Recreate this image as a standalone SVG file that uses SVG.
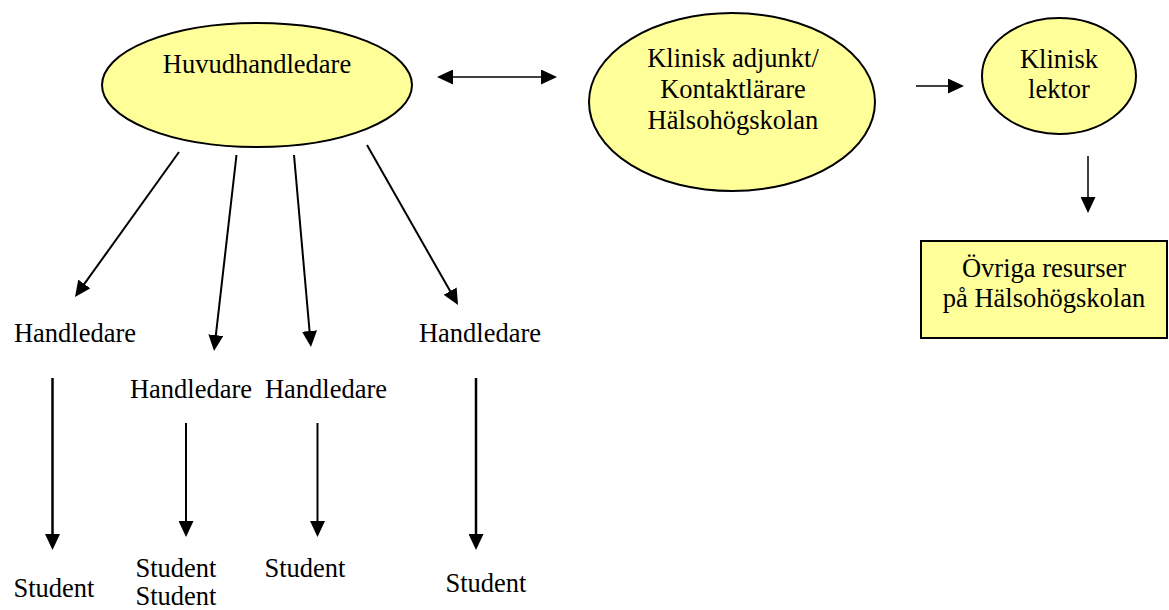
<svg xmlns="http://www.w3.org/2000/svg" width="1169" height="610" viewBox="0 0 1169 610">
<style>
  text { font-family: "Liberation Serif", "Times New Roman", serif; font-size: 26.5px; fill: #000; text-anchor: middle; }
  .node { fill: #FFFF99; stroke: #000; stroke-width: 2; }
  .conn { stroke: #000; fill: none; stroke-linecap: butt; }
</style>
<defs>
  <marker id="ah" markerUnits="userSpaceOnUse" markerWidth="16" markerHeight="15" viewBox="0 0 16 15" refX="4" refY="7.5" orient="auto-start-reverse">
    <path d="M0,0 L16,7.5 L0,15 z" fill="#000"/>
  </marker>
</defs>
<rect width="1169" height="610" fill="#fff"/>

<g id="huvudhandledare">
  <ellipse class="node" cx="257" cy="85" rx="155" ry="62"/>
  <text x="257" y="73">Huvudhandledare</text>
</g>
<g id="klinisk-adjunkt">
  <ellipse class="node" cx="732" cy="102" rx="143" ry="89"/>
  <text x="733" y="67">Klinisk adjunkt/</text>
  <text x="733" y="98">Kontaktlärare</text>
  <text x="733" y="129">Hälsohögskolan</text>
</g>
<g id="klinisk-lektor">
  <ellipse class="node" cx="1059" cy="76" rx="77" ry="58"/>
  <text x="1059" y="68">Klinisk</text>
  <text x="1059" y="98">lektor</text>
</g>
<g id="ovriga-resurser">
  <rect class="node" x="921" y="241" width="246" height="97"/>
  <text x="1044" y="277">Övriga resurser</text>
  <text x="1044" y="307">på Hälsohögskolan</text>
</g>
<g id="handledare-1"><text x="75" y="342">Handledare</text></g>
<g id="handledare-2"><text x="191" y="398">Handledare</text></g>
<g id="handledare-3"><text x="326" y="398">Handledare</text></g>
<g id="handledare-4"><text x="480" y="342">Handledare</text></g>
<g id="student-1"><text x="54" y="597">Student</text></g>
<g id="student-2"><text x="176" y="577">Student</text><text x="176" y="605">Student</text></g>
<g id="student-3"><text x="305" y="577">Student</text></g>
<g id="student-4"><text x="486" y="592">Student</text></g>

<g id="connectors">
  <line class="conn" x1="449" y1="77" x2="545" y2="77" stroke-width="1.5" marker-start="url(#ah)" marker-end="url(#ah)"/>
  <line class="conn" x1="916" y1="86" x2="952" y2="86" stroke-width="1.5" marker-end="url(#ah)"/>
  <line class="conn" x1="1088" y1="156" x2="1088" y2="201" stroke-width="1.5" marker-end="url(#ah)"/>
  <line class="conn" x1="179" y1="152" x2="82" y2="287.2" stroke-width="2" marker-end="url(#ah)"/>
  <line class="conn" x1="236.5" y1="155" x2="215.4" y2="339.1" stroke-width="2" marker-end="url(#ah)"/>
  <line class="conn" x1="294" y1="155" x2="309.9" y2="335" stroke-width="2" marker-end="url(#ah)"/>
  <line class="conn" x1="367" y1="145" x2="452.1" y2="294.6" stroke-width="2" marker-end="url(#ah)"/>
  <line class="conn" x1="52.5" y1="378" x2="52.5" y2="538" stroke-width="2.5" marker-end="url(#ah)"/>
  <line class="conn" x1="186" y1="423" x2="186" y2="525" stroke-width="2" marker-end="url(#ah)"/>
  <line class="conn" x1="317.5" y1="423" x2="317.5" y2="525" stroke-width="2" marker-end="url(#ah)"/>
  <line class="conn" x1="476" y1="378" x2="476" y2="538" stroke-width="2.5" marker-end="url(#ah)"/>
</g>
</svg>
